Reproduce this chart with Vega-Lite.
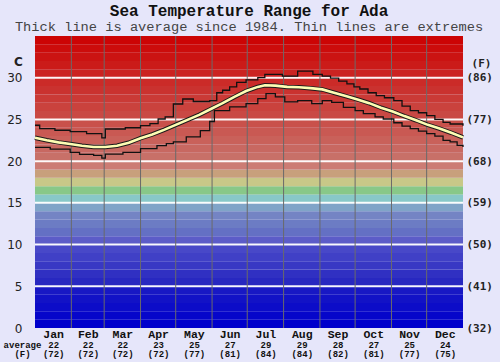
{
  "$schema": "https://vega.github.io/schema/vega-lite/v6.json",
  "width": 428,
  "height": 292,
  "autosize": {"type": "none"},
  "padding": {"left": 35, "top": 36, "right": 37, "bottom": 34},
  "background": "#e6e6fa",
  "config": {"view": {"stroke": null}},
  "title": {
    "text": "Sea Temperature Range for Ada",
    "subtitle": "Thick line is average since 1984. Thin lines are extremes",
    "font": "Liberation Mono", "fontSize": 16, "fontWeight": "bold", "color": "#111111",
    "subtitleFont": "Liberation Mono", "subtitleFontSize": 13.7, "subtitleColor": "#444444",
    "anchor": "middle", "frame": "group", "offset": 2, "subtitlePadding": 1
  },
  "datasets": {
    "bands": [
      {"lo": 0, "hi": 1}, {"lo": 1, "hi": 2}, {"lo": 2, "hi": 3}, {"lo": 3, "hi": 4}, {"lo": 4, "hi": 5},
      {"lo": 5, "hi": 6}, {"lo": 6, "hi": 7}, {"lo": 7, "hi": 8}, {"lo": 8, "hi": 9}, {"lo": 9, "hi": 10},
      {"lo": 10, "hi": 11}, {"lo": 11, "hi": 12}, {"lo": 12, "hi": 13}, {"lo": 13, "hi": 14}, {"lo": 14, "hi": 15},
      {"lo": 15, "hi": 16}, {"lo": 16, "hi": 17}, {"lo": 17, "hi": 18}, {"lo": 18, "hi": 19}, {"lo": 19, "hi": 20},
      {"lo": 20, "hi": 21}, {"lo": 21, "hi": 22}, {"lo": 22, "hi": 23}, {"lo": 23, "hi": 24}, {"lo": 24, "hi": 25},
      {"lo": 25, "hi": 26}, {"lo": 26, "hi": 27}, {"lo": 27, "hi": 28}, {"lo": 28, "hi": 29}, {"lo": 29, "hi": 30},
      {"lo": 30, "hi": 31}, {"lo": 31, "hi": 32}, {"lo": 32, "hi": 33}, {"lo": 33, "hi": 34}, {"lo": 34, "hi": 35}
    ],
    "grid": [{"c": 5}, {"c": 10}, {"c": 15}, {"c": 20}, {"c": 25}, {"c": 30}],
    "bounds": [{"d": 31}, {"d": 59}, {"d": 90}, {"d": 120}, {"d": 151}, {"d": 181}, {"d": 212}, {"d": 243}, {"d": 273}, {"d": 304}, {"d": 334}],
    "avg": [
      {"day": 0, "t": 22.8}, {"day": 10, "t": 22.5}, {"day": 20, "t": 22.25}, {"day": 30, "t": 22.05},
      {"day": 40, "t": 21.85}, {"day": 50, "t": 21.7}, {"day": 60, "t": 21.7}, {"day": 70, "t": 21.85},
      {"day": 80, "t": 22.2}, {"day": 90, "t": 22.75}, {"day": 100, "t": 23.2}, {"day": 110, "t": 23.75},
      {"day": 120, "t": 24.35}, {"day": 130, "t": 24.95}, {"day": 140, "t": 25.55}, {"day": 150, "t": 26.25},
      {"day": 160, "t": 26.95}, {"day": 170, "t": 27.7}, {"day": 180, "t": 28.4}, {"day": 190, "t": 28.9},
      {"day": 196, "t": 29.1}, {"day": 205, "t": 29.05}, {"day": 215, "t": 28.9}, {"day": 225, "t": 28.85},
      {"day": 235, "t": 28.75}, {"day": 245, "t": 28.6}, {"day": 255, "t": 28.2}, {"day": 265, "t": 27.8},
      {"day": 275, "t": 27.4}, {"day": 285, "t": 26.95}, {"day": 295, "t": 26.4}, {"day": 305, "t": 25.95},
      {"day": 315, "t": 25.4}, {"day": 325, "t": 24.9}, {"day": 335, "t": 24.35}, {"day": 345, "t": 23.9},
      {"day": 355, "t": 23.4}, {"day": 365, "t": 22.85}
    ],
    "max": [
      {"day": 0, "t": 24.3}, {"day": 4, "t": 23.9}, {"day": 17, "t": 23.7}, {"day": 30, "t": 23.55},
      {"day": 44, "t": 23.3}, {"day": 57, "t": 22.8}, {"day": 60, "t": 23.85}, {"day": 77, "t": 24.0},
      {"day": 90, "t": 24.25}, {"day": 98, "t": 24.5}, {"day": 105, "t": 25.05}, {"day": 111, "t": 25.3},
      {"day": 118, "t": 26.85}, {"day": 126, "t": 27.45}, {"day": 135, "t": 27.15}, {"day": 149, "t": 27.25},
      {"day": 155, "t": 28.2}, {"day": 160, "t": 28.5}, {"day": 166, "t": 28.9}, {"day": 172, "t": 29.45},
      {"day": 180, "t": 29.75}, {"day": 190, "t": 30.0}, {"day": 196, "t": 30.4}, {"day": 211, "t": 30.2},
      {"day": 224, "t": 30.8}, {"day": 237, "t": 30.4}, {"day": 245, "t": 30.2}, {"day": 252, "t": 29.95},
      {"day": 259, "t": 29.6}, {"day": 266, "t": 29.25}, {"day": 272, "t": 28.9}, {"day": 277, "t": 28.65},
      {"day": 284, "t": 28.2}, {"day": 291, "t": 27.85}, {"day": 298, "t": 27.6}, {"day": 306, "t": 27.25},
      {"day": 313, "t": 26.6}, {"day": 320, "t": 26.05}, {"day": 327, "t": 25.8}, {"day": 334, "t": 25.45},
      {"day": 341, "t": 25.0}, {"day": 348, "t": 24.65}, {"day": 354, "t": 24.45}, {"day": 365, "t": 24.25}
    ],
    "min": [
      {"day": 0, "t": 21.65}, {"day": 13, "t": 21.45}, {"day": 30, "t": 21.05}, {"day": 38, "t": 20.8},
      {"day": 50, "t": 20.7}, {"day": 57, "t": 20.35}, {"day": 60, "t": 20.85}, {"day": 75, "t": 21.05},
      {"day": 90, "t": 21.5}, {"day": 104, "t": 21.85}, {"day": 112, "t": 22.1}, {"day": 118, "t": 22.3},
      {"day": 129, "t": 22.9}, {"day": 141, "t": 23.65}, {"day": 149, "t": 24.75}, {"day": 153, "t": 26.05},
      {"day": 166, "t": 26.5}, {"day": 180, "t": 26.9}, {"day": 190, "t": 27.5}, {"day": 197, "t": 28.1},
      {"day": 205, "t": 27.7}, {"day": 213, "t": 27.1}, {"day": 224, "t": 27.25}, {"day": 236, "t": 26.9},
      {"day": 245, "t": 27.25}, {"day": 253, "t": 27.05}, {"day": 263, "t": 26.45}, {"day": 273, "t": 26.05},
      {"day": 280, "t": 25.7}, {"day": 290, "t": 25.3}, {"day": 297, "t": 25.05}, {"day": 306, "t": 24.6},
      {"day": 313, "t": 24.2}, {"day": 320, "t": 23.9}, {"day": 327, "t": 23.6}, {"day": 334, "t": 23.3},
      {"day": 341, "t": 23.0}, {"day": 348, "t": 22.5}, {"day": 354, "t": 22.3}, {"day": 360, "t": 21.9},
      {"day": 365, "t": 21.7}
    ]
  },
  "resolve": {"axis": {"x": "independent", "y": "independent"}},
  "layer": [
    {
      "data": {"name": "bands"},
      "mark": {"type": "rect"},
      "encoding": {
        "x": {"datum": 0, "type": "quantitative",
          "scale": {"domain": [0, 365], "nice": false, "zero": false},
          "axis": {
            "orient": "bottom",
            "values": [15.5, 45, 74.5, 105, 135.5, 166, 196.5, 227.5, 258, 288.5, 319, 349.5],
            "labelExpr": "['Jan','Feb','Mar','Apr','May','Jun','Jul','Aug','Sep','Oct','Nov','Dec'][floor(datum.value/30.5)]",
            "ticks": false, "domain": false, "grid": false, "labelFlush": false, "labelOverlap": false, "labelBound": false,
            "labelFont": "Liberation Mono", "labelFontWeight": "bold", "labelFontSize": 11.5, "labelColor": "#111111",
            "labelPadding": 0, "title": null
          }
        },
        "x2": {"datum": 365},
        "y": {"field": "lo", "type": "quantitative",
          "scale": {"domain": [0, 35], "nice": false, "zero": false},
          "axis": {
            "orient": "left", "values": [0, 5, 10, 15, 20, 25, 30],
            "ticks": false, "domain": false, "grid": false, "labelFlush": false, "labelOverlap": false, "labelBound": false,
            "labelFont": "DejaVu Sans", "labelFontSize": 12, "labelColor": "#222222", "labelPadding": 13,
            "title": "C", "titleAngle": 0, "titleX": -17, "titleY": 25, "titleAlign": "center", "titleBaseline": "middle",
            "titleFont": "DejaVu Sans", "titleFontSize": 12, "titleFontWeight": "bold", "titleColor": "#222222"
          }
        },
        "y2": {"field": "hi"},
        "color": {"field": "lo", "type": "quantitative", "legend": null,
          "scale": {
            "domain": [0, 4, 5, 9, 10, 11, 12, 13, 14, 15, 16, 17, 18, 19, 20, 34],
            "range": ["#0000cc", "#1818c4", "#2828c0", "#4848c8", "#5c5cc8", "#6470c4", "#6c7cc4", "#7484c4", "#80a4c8", "#88c8c8", "#88c888", "#c8c888", "#c8a07c", "#cc7c74", "#c87068", "#cc0404"],
            "interpolate": "rgb"
          }
        }
      }
    },
    {
      "data": {"name": "grid"},
      "mark": {"type": "rule", "color": "#ffffff", "strokeWidth": 2, "opacity": 0.95},
      "encoding": {
        "x": {"datum": 0, "type": "quantitative",
          "scale": {"domain": [0, 365], "nice": false, "zero": false},
          "axis": {
            "orient": "bottom",
            "values": [15.5, 45, 74.5, 105, 135.5, 166, 196.5, 227.5, 258, 288.5, 319, 349.5],
            "labelExpr": "[['22','(72)'],['22','(72)'],['22','(72)'],['23','(72)'],['25','(77)'],['27','(81)'],['29','(84)'],['29','(84)'],['28','(82)'],['27','(81)'],['25','(77)'],['24','(75)']][floor(datum.value/30.5)]",
            "ticks": false, "domain": false, "grid": false, "labelFlush": false, "labelOverlap": false, "labelBound": false,
            "labelFont": "Liberation Mono", "labelFontWeight": "bold", "labelFontSize": 9, "labelLineHeight": 9.5,
            "labelColor": "#111111", "labelPadding": 12,
            "title": ["average", "(F)"], "titleX": -13, "titleY": 12, "titleAlign": "center", "titleBaseline": "top",
            "titleFont": "Liberation Mono", "titleFontWeight": "bold", "titleFontSize": 9, "titleLineHeight": 9.5, "titleColor": "#111111"
          }
        },
        "x2": {"datum": 365},
        "y": {"field": "c", "type": "quantitative",
          "scale": {"domain": [0, 35], "nice": false, "zero": false},
          "axis": {
            "orient": "right", "values": [0, 5, 10, 15, 20, 25, 30],
            "labelExpr": "'(' + round(datum.value*9/5+32) + ')'",
            "ticks": false, "domain": false, "grid": false, "labelFlush": false, "labelOverlap": false, "labelBound": false,
            "labelFont": "DejaVu Sans Mono", "labelFontWeight": "bold", "labelFontSize": 11, "labelColor": "#222222", "labelPadding": 3,
            "title": "(F)", "titleAngle": 0, "titleX": 18, "titleY": 27, "titleAlign": "center", "titleBaseline": "middle",
            "titleFont": "DejaVu Sans Mono", "titleFontSize": 11, "titleFontWeight": "bold", "titleColor": "#222222"
          }
        }
      }
    },
    {
      "data": {"name": "bounds"},
      "mark": {"type": "rule", "color": "#6a6a6a", "strokeWidth": 1},
      "encoding": {
        "x": {"field": "d", "type": "quantitative", "scale": {"domain": [0, 365], "nice": false, "zero": false}, "axis": null}
      }
    },
    {
      "data": {"name": "max"},
      "mark": {"type": "line", "interpolate": "step-after", "color": "#111111", "strokeWidth": 1.3},
      "encoding": {
        "x": {"field": "day", "type": "quantitative", "scale": {"domain": [0, 365], "nice": false, "zero": false}, "axis": null},
        "y": {"field": "t", "type": "quantitative", "scale": {"domain": [0, 35], "nice": false, "zero": false}, "axis": null}
      }
    },
    {
      "data": {"name": "min"},
      "mark": {"type": "line", "interpolate": "step-after", "color": "#111111", "strokeWidth": 1.3},
      "encoding": {
        "x": {"field": "day", "type": "quantitative", "scale": {"domain": [0, 365], "nice": false, "zero": false}, "axis": null},
        "y": {"field": "t", "type": "quantitative", "scale": {"domain": [0, 35], "nice": false, "zero": false}, "axis": null}
      }
    },
    {
      "data": {"name": "avg"},
      "mark": {"type": "line", "color": "#1a1a1a", "strokeWidth": 4.5},
      "encoding": {
        "x": {"field": "day", "type": "quantitative", "scale": {"domain": [0, 365], "nice": false, "zero": false}, "axis": null},
        "y": {"field": "t", "type": "quantitative", "scale": {"domain": [0, 35], "nice": false, "zero": false}, "axis": null}
      }
    },
    {
      "data": {"name": "avg"},
      "mark": {"type": "line", "color": "#fdfdb4", "strokeWidth": 2.6},
      "encoding": {
        "x": {"field": "day", "type": "quantitative", "scale": {"domain": [0, 365], "nice": false, "zero": false}, "axis": null},
        "y": {"field": "t", "type": "quantitative", "scale": {"domain": [0, 35], "nice": false, "zero": false}, "axis": null}
      }
    }
  ]
}
